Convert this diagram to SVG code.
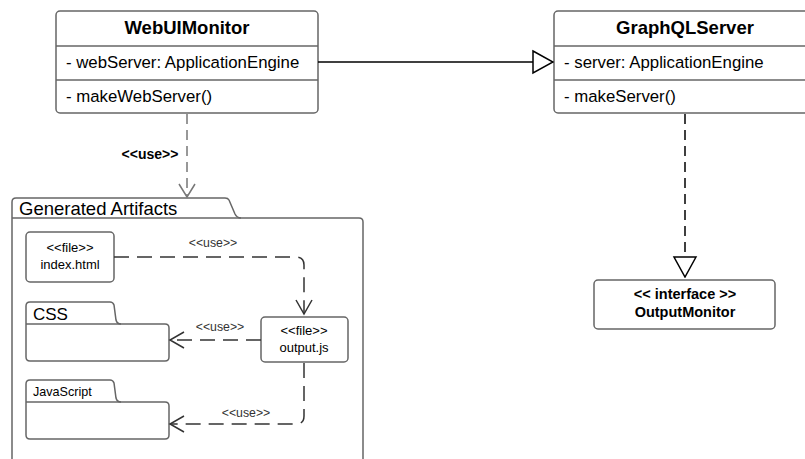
<svg xmlns="http://www.w3.org/2000/svg" width="805" height="459" viewBox="0 0 805 459">
<style>
.box{fill:#fff;stroke:#666;stroke-width:1.5}
.div{stroke:#666;stroke-width:1.5}
.t{font-family:"Liberation Sans",Arial,sans-serif;fill:#000}
.title{font-size:18.5px;font-weight:bold;text-anchor:middle}
.mem{font-size:16.8px}
.sm{font-size:13px;text-anchor:middle}
.lbl{font-size:12.3px;fill:#333;text-anchor:middle}
.dash{fill:none;stroke:#333;stroke-width:1.5;stroke-dasharray:15 8}
</style>
<defs>
<marker id="open" markerWidth="18" markerHeight="20" refX="15" refY="10" orient="auto" markerUnits="userSpaceOnUse">
<path d="M1,2 L15,10 L1,18" fill="none" stroke="#333" stroke-width="1.5"/>
</marker>
<marker id="opengrey" markerWidth="18" markerHeight="20" refX="14" refY="10" orient="auto" markerUnits="userSpaceOnUse">
<path d="M1,2 L14,10 L1,18" fill="none" stroke="#777" stroke-width="1.5"/>
</marker>
<marker id="tri" markerWidth="22" markerHeight="26" refX="21" refY="13" orient="auto" markerUnits="userSpaceOnUse">
<path d="M1,2 L21,13 L1,24 Z" fill="#fff" stroke="#000" stroke-width="1.5"/>
</marker>
</defs>
<rect width="805" height="459" fill="#fff"/>
<g id="WebUIMonitor">
<rect class="box" x="56" y="11" width="262" height="102" rx="4"/>
<line class="div" x1="56" y1="46" x2="318" y2="46"/>
<line class="div" x1="56" y1="80" x2="318" y2="80"/>
<text class="t title" x="187" y="34">WebUIMonitor</text>
<text class="t mem" x="66" y="68">- webServer: ApplicationEngine</text>
<text class="t mem" x="66" y="102">- makeWebServer()</text>
</g>
<g id="GraphQLServer">
<rect class="box" x="554" y="11" width="262" height="102" rx="4"/>
<line class="div" x1="554" y1="46" x2="805" y2="46"/>
<line class="div" x1="554" y1="80" x2="805" y2="80"/>
<text class="t title" x="685" y="34">GraphQLServer</text>
<text class="t mem" x="564" y="68">- server: ApplicationEngine</text>
<text class="t mem" x="564" y="102">- makeServer()</text>
</g>
<g id="OutputMonitor">
<rect class="box" x="594" y="280" width="181" height="49" rx="4"/>
<text class="t" x="685" y="299" font-size="14.5" font-weight="bold" text-anchor="middle">&lt;&lt; interface &gt;&gt;</text>
<text class="t" x="685" y="317" font-size="14.5" font-weight="bold" text-anchor="middle">OutputMonitor</text>
</g>
<g id="GeneratedArtifacts">
<path class="box" d="M12,218 V202 Q12,198 16,198 H225 Q228,198 229,200 L235,214 Q237,218 241,218 H359 Q363,218 363,222 V470 H12 Z"/>
<line class="div" x1="12" y1="218" x2="241" y2="218"/>
<text class="t" x="19" y="215" font-size="18.5">Generated Artifacts</text>
</g>
<g id="indexhtml">
<rect class="box" x="26" y="232" width="88" height="50" rx="4"/>
<text class="t sm" x="70" y="252">&lt;&lt;file&gt;&gt;</text>
<text class="t sm" x="70" y="269">index.html</text>
</g>
<g id="outputjs">
<rect class="box" x="261" y="317" width="87" height="45" rx="4"/>
<text class="t sm" x="304" y="335">&lt;&lt;file&gt;&gt;</text>
<text class="t sm" x="304" y="352">output.js</text>
</g>
<g id="CSS">
<path class="box" d="M26,324 V306 Q26,302 30,302 H110 Q113,302 114,305 L116,320 Q117,324 121,324 H165 Q169,324 169,328 V357 Q169,361 165,361 H30 Q26,361 26,357 Z"/>
<line class="div" x1="26" y1="324" x2="121" y2="324"/>
<text class="t" x="33" y="320" font-size="17">CSS</text>
</g>
<g id="JavaScript">
<path class="box" d="M26,402 V384 Q26,380 30,380 H110 Q113,380 114,383 L116,398 Q117,402 121,402 H165 Q169,402 169,406 V435 Q169,439 165,439 H30 Q26,439 26,435 Z"/>
<line class="div" x1="26" y1="402" x2="121" y2="402"/>
<text class="t" x="33" y="396" font-size="12.6">JavaScript</text>
</g>
<g id="connectors">
<line x1="318" y1="62" x2="553" y2="62" stroke="#000" stroke-width="1.5" marker-end="url(#tri)"/>
<line x1="685" y1="114" x2="685" y2="277" stroke="#000" stroke-width="1.5" stroke-dasharray="10 6" marker-end="url(#tri)"/>
<line x1="187" y1="114" x2="187" y2="197" stroke="#777" stroke-width="1.5" stroke-dasharray="10 6" marker-end="url(#opengrey)"/>
<text class="t" x="150" y="159" font-size="14" font-weight="bold" text-anchor="middle">&lt;&lt;use&gt;&gt;</text>
<path class="dash" d="M114,257 H296 Q304,257 304,265 V314" marker-end="url(#open)"/>
<text class="t lbl" x="213" y="247">&lt;&lt;use&gt;&gt;</text>
<line class="dash" x1="261" y1="340" x2="170" y2="340" marker-end="url(#open)"/>
<text class="t lbl" x="220" y="331">&lt;&lt;use&gt;&gt;</text>
<path class="dash" d="M304,363 V416 Q304,424 296,424 H170" marker-end="url(#open)"/>
<text class="t lbl" x="246" y="417">&lt;&lt;use&gt;&gt;</text>
</g>
</svg>
